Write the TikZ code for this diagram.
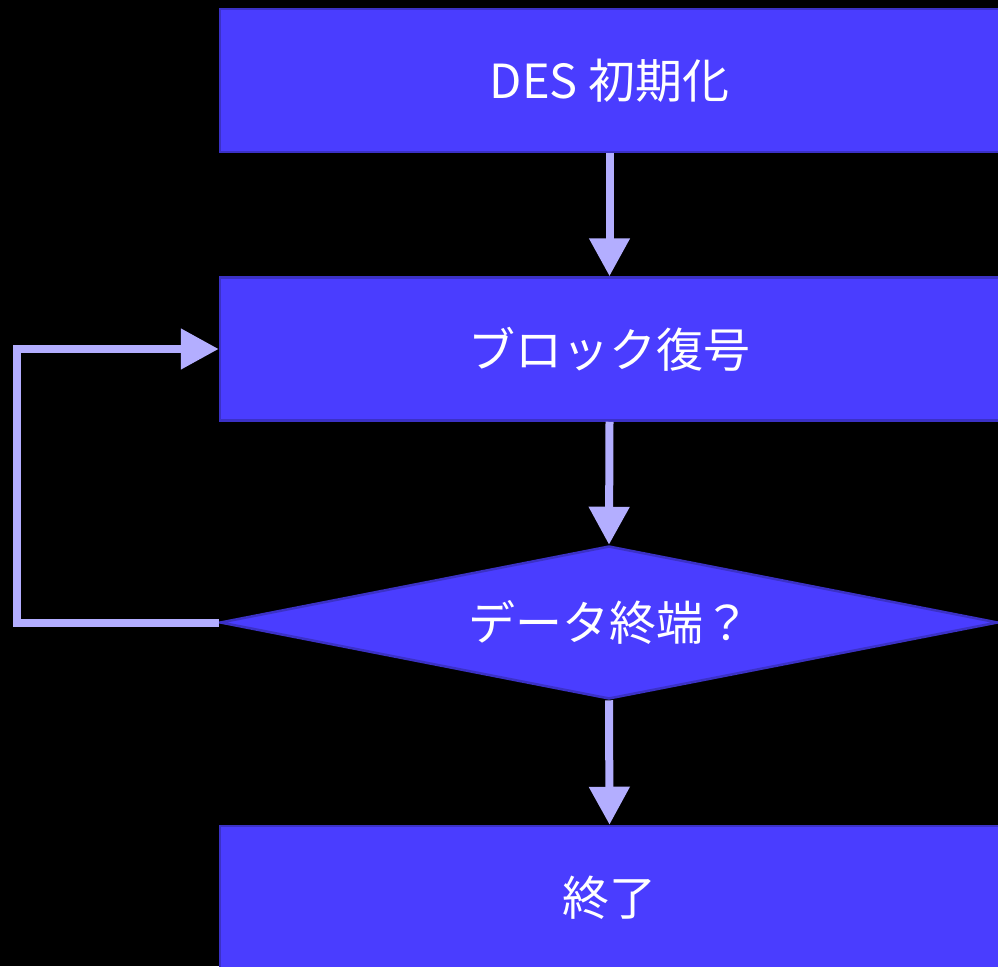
\documentclass[tikz,border=0pt]{standalone}
\usepackage{fontspec}
\setmainfont{Noto Sans CJK JP}
\usetikzlibrary{shapes.geometric,arrows.meta}
\definecolor{boxfill}{HTML}{4A3DFF}
\definecolor{boxline}{HTML}{3B31C6}
\definecolor{arrowc}{HTML}{B3AEFF}
\begin{document}
\begin{tikzpicture}[x=1pt,y=-1pt,
  stepbox/.style={rectangle,draw=boxline,fill=boxfill,line width=2.5pt,
    minimum width=779pt,minimum height=143pt,inner sep=0pt,
    text=white,font=\fontsize{47}{52}\selectfont},
  decisionbox/.style={diamond,draw=boxline,fill=boxfill,line width=2.5pt,
    minimum width=778pt,minimum height=153pt,aspect=5.08,inner sep=0pt,
    text=white,font=\fontsize{47}{52}\selectfont},
  conn/.style={draw=arrowc,line width=8pt,line join=miter,
    -{Triangle[width=39pt,length=38pt]}}]
\fill[black] (0,0) rectangle (998,966);
\useasboundingbox (0,0) rectangle (998,966);
\node[stepbox] (init) at (609.5,80.5) {DES 初期化};
\node[stepbox] (dec) at (609.5,349) {ブロック復号};
\node[decisionbox] (end) at (609,622.5) {データ終端？};
\node[stepbox] (fin) at (609.5,897.5) {終了};
\coordinate (lb) at (17,622.5);
\coordinate (lt) at (17,349);
\draw[conn] (init.south) -- (dec.north);
\draw[conn] (dec.south) -- (end.north);
\draw[conn] (end.south) -- (fin.north);
\draw[conn] (end.west) -- (lb) -- (lt) -- (dec.west);
\end{tikzpicture}
\end{document}
